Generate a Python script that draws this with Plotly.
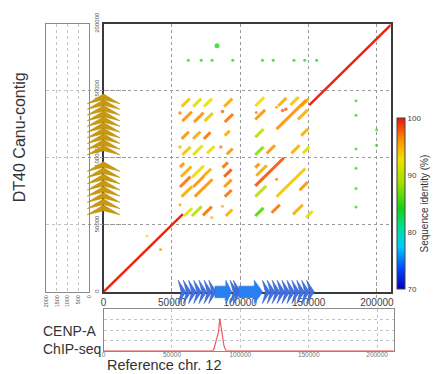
import plotly.graph_objects as go
from plotly.colors import sample_colorscale

W, H = 433, 374
KB = 1000

# ---------------- data (kb) ----------------
# main diagonal (reference vs contig), identity ~100 %
diag_x0 = [0.0, 150.5]
diag_y0 = [0.0, 139.3]
diag_len = [58.0, 61.0]
diag_id = [99.5, 99.5]

# tandem-repeat alignment segments (x0, y0 in kb, length kb, identity %)
seg_x0 = [57.1, 65.5, 73.4, 88.2, 57.6, 66.2, 73.9, 88.7, 57.1, 65.5, 73.4, 88.7,
          57.6, 65.5, 75.8, 90.2,
          111.0, 127.8, 136.7, 144.6, 111.0, 126.6, 142.2, 111.0, 144.6, 111.0, 119.4, 137.4, 145.8,
          55.9, 56.6, 64.7, 72.7, 55.9, 65.5, 57.1, 66.7, 87.0, 88.2, 88.2, 88.7,
          59.0, 64.6, 72.7, 89.4,
          111.7, 111.0, 111.0, 126.6, 111.0, 123.0, 138.6, 148.2, 143.4, 111.0]
seg_y0 = [138.1, 138.1, 138.1, 138.1, 127.3, 126.6, 127.3, 126.6, 114.1, 114.1, 114.1, 116.5,
          102.1, 102.1, 103.3, 102.6,
          138.6, 138.6, 139.3, 138.6, 128.5, 121.3, 128.5, 115.3, 116.5, 102.1, 103.3, 103.3, 103.3,
          93.0, 85.8, 85.4, 85.8, 78.2, 78.2, 71.0, 71.0, 92.6, 85.8, 78.2, 71.0,
          56.6, 56.6, 57.1, 56.6,
          86.6, 79.0, 71.0, 71.0, 56.6, 59.0, 57.8, 55.4, 75.8, 92.6]
seg_len = [6.0, 6.0, 6.0, 6.0, 7.0, 7.0, 6.0, 6.0, 5.3, 5.3, 4.8, 3.6,
           6.0, 7.0, 5.3, 4.3,
           6.5, 6.0, 6.0, 5.3, 7.2, 21.6, 7.2, 6.0, 5.3, 6.0, 6.0, 6.0, 4.8,
           3.0, 7.7, 8.6, 6.0, 7.7, 7.7, 7.7, 13.0, 4.0, 5.5, 5.5, 5.0,
           5.8, 7.2, 6.5, 4.8,
           7.7, 21.0, 8.0, 21.0, 6.0, 6.0, 7.2, 4.8, 6.0, 3.0]
seg_id = [94, 92, 92.5, 95, 96, 96, 94, 97, 96, 95, 97, 95,
          94, 92, 93, 96,
          93, 95, 94, 95, 96, 96, 95, 90, 95, 88, 96, 95, 92,
          96, 95, 93, 95, 97, 96, 95, 96, 97, 98, 96, 97,
          92, 90, 97, 95,
          95, 98, 90, 94, 86, 97, 95, 92, 96, 96]

# isolated short matches (dots)
dot_x = [62.0, 71.4, 79.4, 94.5, 116.2, 124.1, 139.3, 147.2, 155.9, 83.0,
         184.7, 184.7, 184.7, 184.7, 184.7, 184.7, 199.8, 199.8, 31.7, 41.7,
         55.9, 87.0, 55.9, 85.8, 111.7, 126.6, 131.0, 133.4, 55.9, 79.1, 87.0, 126.6]
dot_y = [172.7, 172.7, 172.7, 172.7, 172.7, 172.7, 172.7, 172.7, 172.7, 183.4,
         142.4, 131.6, 106.5, 92.1, 77.0, 63.3, 120.9, 109.4, 41.7, 31.7,
         133.3, 134.5, 108.1, 108.1, 133.8, 137.6, 135.2, 136.2, 65.0, 55.4, 63.8, 84.0]
dot_id = [84, 84, 84, 84, 84, 84, 84, 84, 84, 84,
          85, 85, 85, 85, 85, 85, 85, 85, 92, 96,
          97, 98, 95, 97, 97, 96, 98, 98, 96, 95, 95, 97]
dot_size = [3, 3, 3, 3, 3, 3, 3, 3, 3, 5,
            3, 3, 3, 3, 3, 3, 3, 3, 3, 3,
            3.5, 3.5, 3.5, 3.5, 3, 3, 3.5, 3.5, 3, 3, 3, 3]

# repeat-unit annotations
contig_unit_tips = [147.5, 143.3, 139.0, 134.8, 130.6, 126.3, 122.1, 117.9, 113.6, 109.4,
                    97.1, 92.5, 87.8, 83.2, 78.6, 74.0, 69.3, 64.7]
ref_unit_starts = [54.6, 58.4, 62.2, 66.0, 69.8, 73.6, 77.0,
                   92.6, 95.0,
                   116.2, 119.8, 123.4, 127.0, 130.6, 134.2, 137.8, 141.4, 145.0, 148.6]
ref_block_start = [81.5, 99.0]
ref_block_end = [93.8, 116.4]

# CENP-A ChIP-seq
cenpa_x = [0, 79, 80.5, 83, 84, 85, 85.6, 86.6, 88, 89.5, 212]
cenpa_y = [0, 0, 1, 14, 18, 31, 25, 14, 5, 0, 0]

main_ticks = [0, 50000, 100000, 150000, 200000]
left_ticks = [0, 500, 1000, 1500, 2000]

# ---------------- styles ----------------
CS = [[0.0, 'rgb(0,0,190)'], [0.12, 'rgb(0,70,255)'], [0.25, 'rgb(0,205,255)'],
      [0.36, 'rgb(0,225,150)'], [0.47, 'rgb(20,210,20)'], [0.62, 'rgb(160,225,0)'],
      [0.76, 'rgb(240,225,0)'], [0.87, 'rgb(255,145,0)'], [1.0, 'rgb(232,20,16)']]
CMIN, CMAX = 70, 100
FONT = 'Liberation Sans, Arial, sans-serif'


def idcolor(v):
    return sample_colorscale(CS, [(v - CMIN) / (CMAX - CMIN)])[0]


fig = go.Figure()

# left panel (empty contig track)
fig.add_trace(go.Scatter(x=[None], y=[None], xaxis='x2', yaxis='y2', mode='lines', hoverinfo='skip'))

# alignment segments
for x0, y0, L, v in zip(seg_x0, seg_y0, seg_len, seg_id):
    fig.add_trace(go.Scatter(x=[x0 * KB, (x0 + L) * KB], y=[y0 * KB, (y0 + L) * KB],
                             mode='lines', line=dict(color=idcolor(v), width=3.0),
                             opacity=0.9, hoverinfo='skip'))
for x0, y0, L, v in zip(diag_x0, diag_y0, diag_len, diag_id):
    fig.add_trace(go.Scatter(x=[x0 * KB, (x0 + L) * KB], y=[y0 * KB, (y0 + L) * KB],
                             mode='lines', line=dict(color=idcolor(v), width=2.4),
                             hoverinfo='skip'))

# dots + colorbar
fig.add_trace(go.Scatter(
    x=[v * KB for v in dot_x], y=[v * KB for v in dot_y], mode='markers',
    marker=dict(size=dot_size, color=dot_id, colorscale=CS, cmin=CMIN, cmax=CMAX,
                opacity=0.75, line=dict(width=0),
                colorbar=dict(x=400 / W, xanchor='left', y=1 - 198.5 / H, yanchor='middle',
                              len=177 / H, lenmode='fraction', thickness=8,
                              outlinewidth=1, outlinecolor='#444', xpad=0, ypad=0,
                              tickvals=[70, 80, 90, 100], ticks='',
                              tickfont=dict(size=8, color='#444', family=FONT),
                              title=dict(text='Sequence identity (%)', side='right',
                                         font=dict(size=10, color='#333', family=FONT)))),
    showlegend=False, hoverinfo='skip'))

# CENP-A track
fig.add_trace(go.Scatter(x=[v * KB for v in cenpa_x], y=cenpa_y, xaxis='x3', yaxis='y3',
                         mode='lines', line=dict(color='rgb(240,90,90)', width=1.2),
                         hoverinfo='skip'))

# contig repeat units (gold chevrons pointing up) on aux axis x4 (pixel units)
CH_W, CH_H, CH_N = 16.5, 7.2, 3.0
gx, gy = [], []
for t in contig_unit_tips:
    gx += [-CH_W, 0, CH_W, 0, -CH_W, None]
    gy += [(t - CH_H) * KB, t * KB, (t - CH_H) * KB, (t - CH_H + CH_N) * KB, (t - CH_H) * KB, None]
fig.add_trace(go.Scatter(x=gx, y=gy, xaxis='x4', yaxis='y', mode='lines', fill='toself',
                         fillcolor='rgb(199,152,18)', line=dict(color='rgb(190,142,10)', width=0.6),
                         hoverinfo='skip'))

# reference repeat units (blue chevrons) on aux axis y5 (pixel units)
BW, BN, BH = 5.6, 2.2, 12
bx, by = [], []
for s in ref_unit_starts:
    bx += [s * KB, (s + BW) * KB, s * KB, (s + BN) * KB, s * KB, None]
    by += [BH, 0, -BH, 0, BH, None]
fig.add_trace(go.Scatter(x=bx, y=by, xaxis='x', yaxis='y5', mode='lines', fill='toself',
                         fillcolor='rgb(66,112,222)', line=dict(color='rgb(50,95,205)', width=0.6),
                         hoverinfo='skip'))
ax, ay = [], []
for a, b in zip(ref_block_start, ref_block_end):
    hs = b - (b - a) * 0.35
    ax += [a * KB, hs * KB, hs * KB, b * KB, hs * KB, hs * KB, a * KB, a * KB, None]
    ay += [6, 6, BH, 0, -BH, -6, -6, 6, None]
fig.add_trace(go.Scatter(x=ax, y=ay, xaxis='x', yaxis='y5', mode='lines', fill='toself',
                         fillcolor='rgb(40,128,240)', line=dict(color='rgb(35,115,225)', width=0.6),
                         hoverinfo='skip'))

GRID = dict(showgrid=True, griddash='dot', gridwidth=1, zeroline=False, ticks='')
dom_main_x = [102 / W, 393 / W]
dom_main_y = [1 - 290 / H, 1 - 12 / H]

fig.update_layout(
    width=W, height=H, margin=dict(l=0, r=0, t=0, b=0),
    paper_bgcolor='white', plot_bgcolor='rgba(0,0,0,0)', showlegend=False,
    font=dict(family=FONT, color='#333'),
    xaxis=dict(domain=dom_main_x, range=[0, 210000], anchor='y', showline=True, mirror=True,
               linecolor='#3a3a3a', linewidth=1.5, gridcolor='#9a9a9a', tickvals=main_ticks,
               ticktext=[str(v) for v in main_ticks],
               tickfont=dict(size=10, color='#444'), **GRID),
    yaxis=dict(domain=dom_main_y, range=[0, 200000], anchor='x', showline=True, mirror=True,
               linecolor='#3a3a3a', linewidth=1.5, gridcolor='#9a9a9a', tickvals=main_ticks,
               ticktext=[str(v) for v in main_ticks], tickangle=-90,
               tickfont=dict(size=6, color='#555'), **GRID),
    xaxis2=dict(domain=[44 / W, 87 / W], range=[2000, 0], anchor='y2', showline=True, mirror=True,
                linecolor='#8a8a8a', linewidth=1, gridcolor='#c4c4c4', tickvals=left_ticks,
                ticktext=[str(v) for v in left_ticks], tickangle=-90,
                tickfont=dict(size=5.5, color='#555'), **GRID),
    yaxis2=dict(domain=dom_main_y, range=[0, 200000], anchor='x2', showline=True, mirror=True,
                linecolor='#8a8a8a', linewidth=1, gridcolor='#c4c4c4', tickvals=main_ticks,
                showticklabels=False, **GRID),
    xaxis3=dict(domain=[102 / W, 396 / W], range=[0, 212000], anchor='y3', showline=True, mirror=True,
                linecolor='#8a8a8a', linewidth=1, gridcolor='#c4c4c4', tickvals=main_ticks,
                ticktext=[str(v) for v in main_ticks], ticklabelstandoff=-3,
                tickfont=dict(size=6.5, color='#777'), **GRID),
    yaxis3=dict(domain=[1 - 351 / H, 1 - 308 / H], range=[0, 40], anchor='x3', showline=True,
                mirror=True, linecolor='#8a8a8a', linewidth=1, gridcolor='#c4c4c4',
                tickvals=[10, 20, 30], showticklabels=False, **GRID),
    xaxis4=dict(domain=[80 / W, 125 / W], range=[-22, 23], anchor='y', visible=False),
    yaxis5=dict(domain=[1 - 305 / H, 1 - 275 / H], range=[-15, 15], anchor='x', visible=False),
    annotations=[
        dict(text='DT40 Canu-contig', x=17 / W, y=1 - 130 / H, xref='paper', yref='paper',
             textangle=-90, showarrow=False, xanchor='center', yanchor='middle',
             font=dict(size=16, color='#333')),
        dict(text='CENP-A<br>ChIP-seq', x=39 / W, y=1 - 340 / H, xref='paper', yref='paper',
             showarrow=False, xanchor='left', yanchor='middle', align='left',
             font=dict(size=14, color='#333')),
        dict(text='Reference chr. 12', x=104 / W, y=0, xref='paper', yref='paper',
             showarrow=False, xanchor='left', yanchor='bottom', borderpad=0, yshift=-1,
             font=dict(size=14.5, color='#333')),
    ],
)

fig.write_html('out.html')
